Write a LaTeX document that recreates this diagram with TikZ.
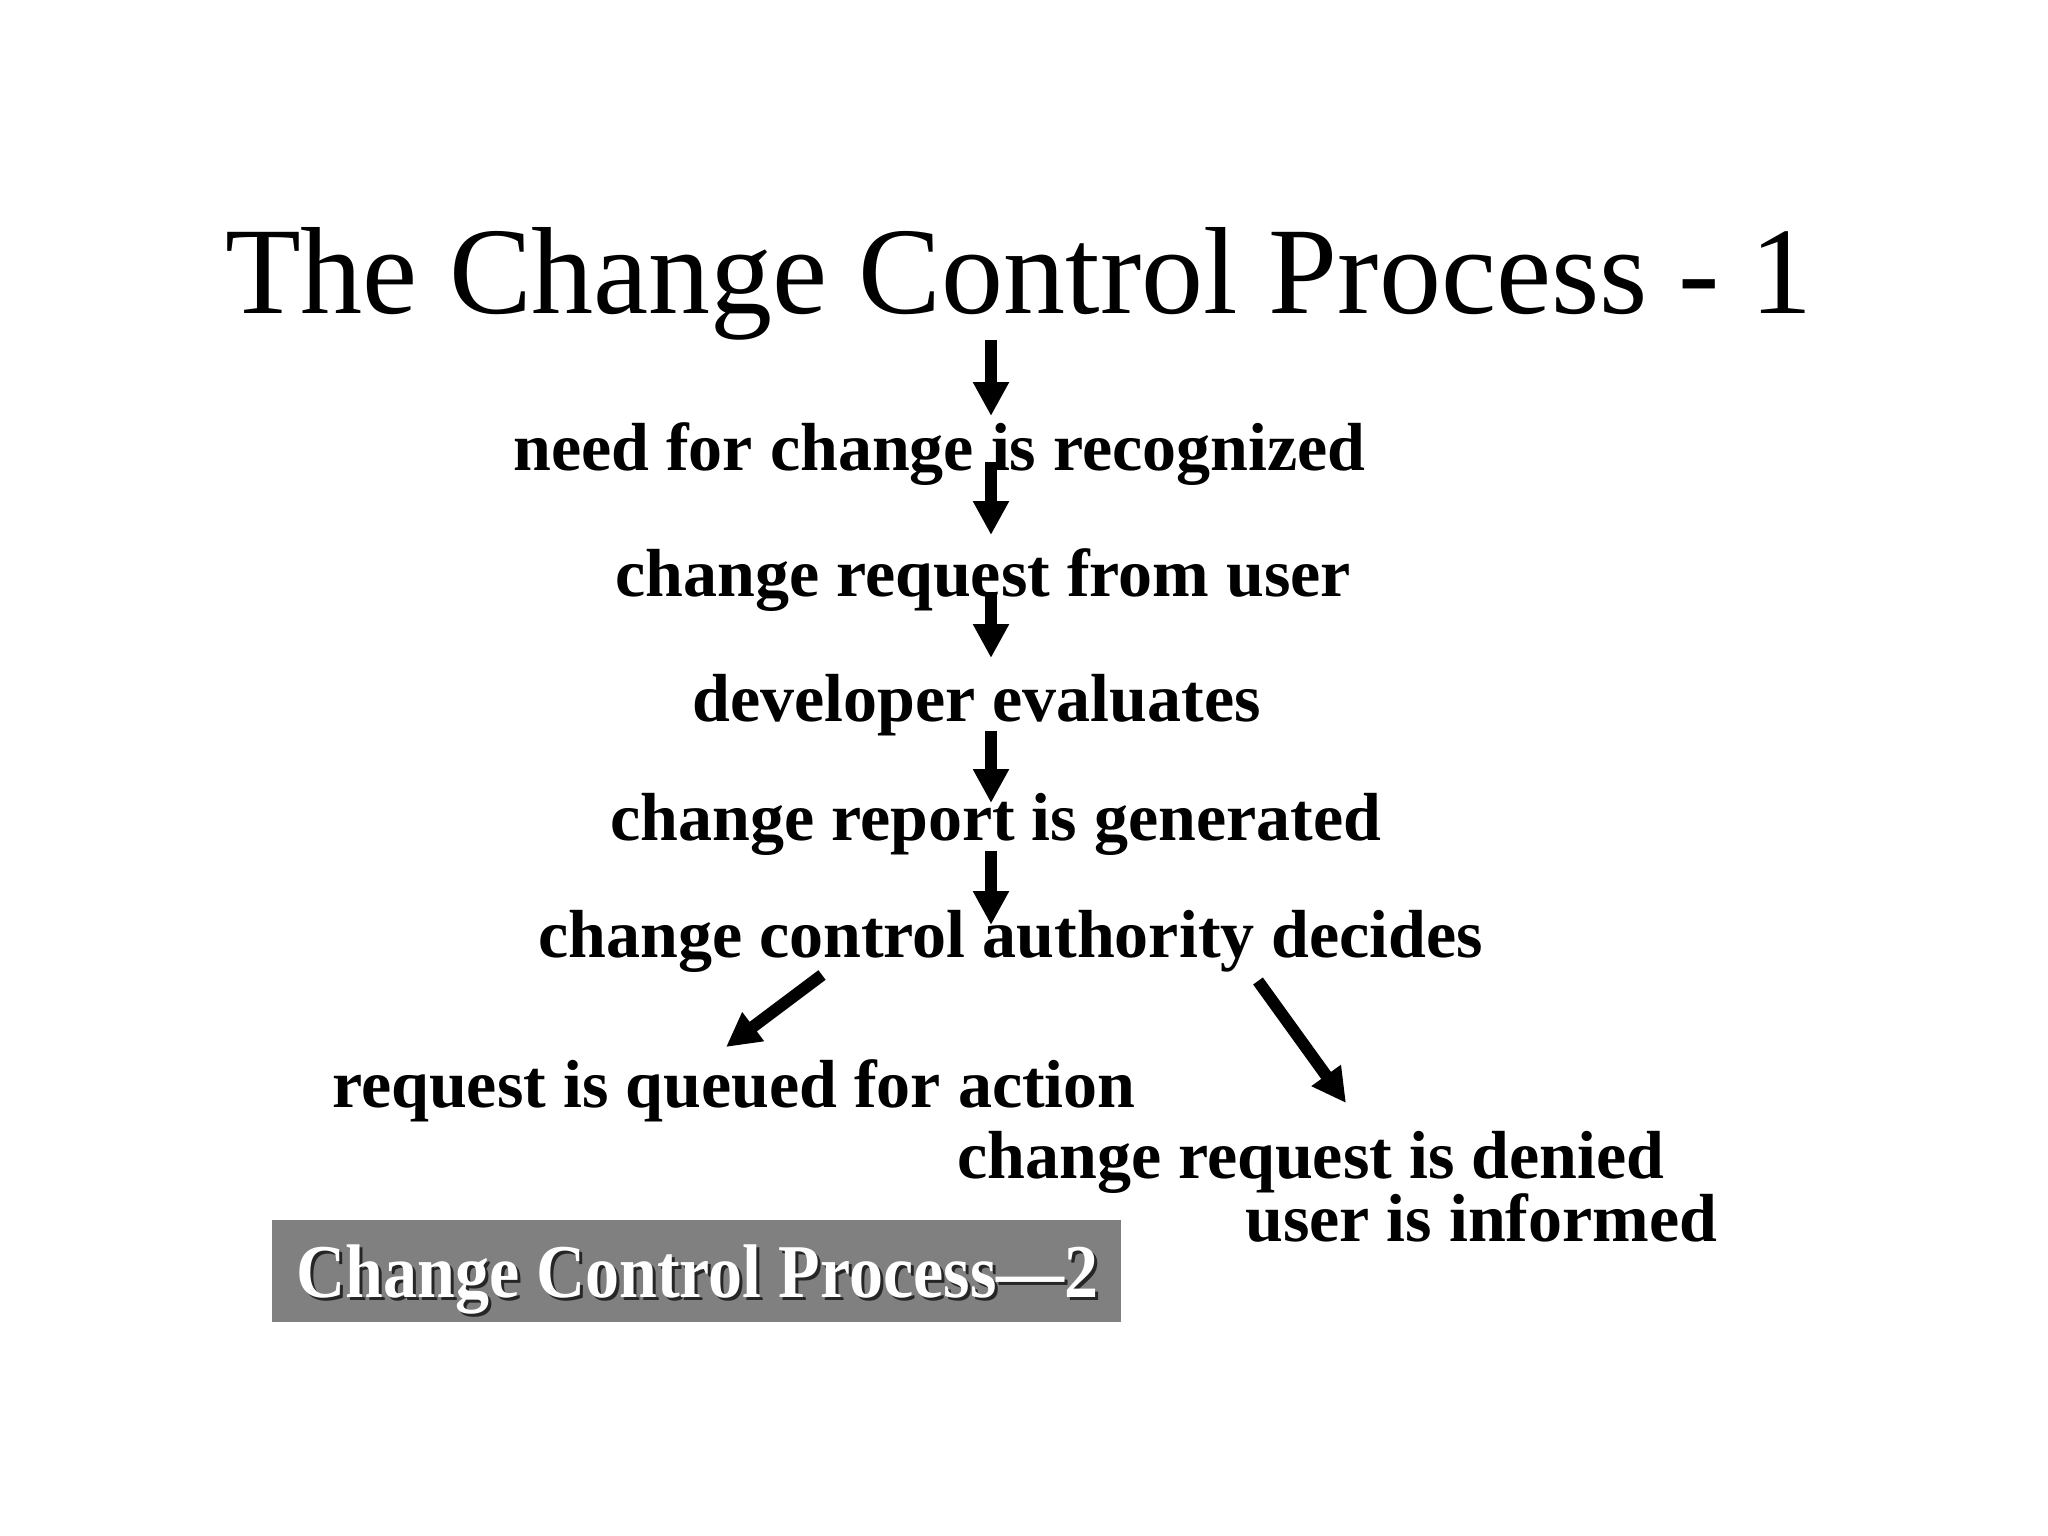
\documentclass[tikz,border=0pt]{standalone}
\usepackage{fontspec}
\setmainfont{Liberation Serif}
\usetikzlibrary{arrows.meta}
\tikzset{
  steptext/.style={anchor=base west, inner sep=0pt, font=\bfseries\fontsize{68}{80}\selectfont},
  flowarrow/.style={line width=12pt, -{Triangle[length=34pt,width=34pt]}},
}
\begin{document}
\begin{tikzpicture}[x=1pt,y=-1pt]
\useasboundingbox (0,0) rectangle (2048,1536);
\fill[white] (0,0) rectangle (2048,1536);
% title
\node[anchor=base west, inner sep=0pt, font=\fontsize{124}{140}\selectfont] (title) at (225,313) {The Change Control Process - 1};
% steps
\node[steptext] (s1) at (513,470) {need for change is recognized};
\node[steptext] (s2) at (615,596) {change request from user};
\node[steptext] (s3) at (692,721) {developer evaluates};
\node[steptext] (s4) at (610,840) {change report is generated};
\node[steptext] (s5) at (538,957) {change control authority decides};
\node[steptext] (s6) at (332,1107) {request is queued for action};
\node[steptext] (s7) at (957,1178) {change request is denied};
\node[steptext] (s8) at (1245,1241) {user is informed};
% arrow end points
\coordinate (a1s) at (991,340); \coordinate (a1e) at (991,416);
\coordinate (a2s) at (991,462); \coordinate (a2e) at (991,535);
\coordinate (a3s) at (991,592); \coordinate (a3e) at (991,658);
\coordinate (a4s) at (991,731); \coordinate (a4e) at (991,803);
\coordinate (a5s) at (991,851); \coordinate (a5e) at (991,925);
\coordinate (l1s) at (822,975); \coordinate (l1e) at (726,1047);
\coordinate (r1s) at (1258,981); \coordinate (r1e) at (1346,1103);
\draw[flowarrow] (a1s) -- (a1e);
\draw[flowarrow] (a2s) -- (a2e);
\draw[flowarrow] (a3s) -- (a3e);
\draw[flowarrow] (a4s) -- (a4e);
\draw[flowarrow] (a5s) -- (a5e);
\draw[flowarrow] (l1s) -- (l1e);
\draw[flowarrow] (r1s) -- (r1e);
% gray box
\fill[black!50] (272,1220) rectangle (1121,1322);
\node[anchor=base, inner sep=0pt, text=black!85, font=\bfseries\fontsize{76}{80}\selectfont] (boxshadow) at (700.5,1300) {\scalebox{0.895}[1]{Change Control Process—2}};
\node[anchor=base, inner sep=0pt, text=white, font=\bfseries\fontsize{76}{80}\selectfont] (boxtext) at (697.5,1297) {\scalebox{0.895}[1]{Change Control Process—2}};
\end{tikzpicture}
\end{document}
